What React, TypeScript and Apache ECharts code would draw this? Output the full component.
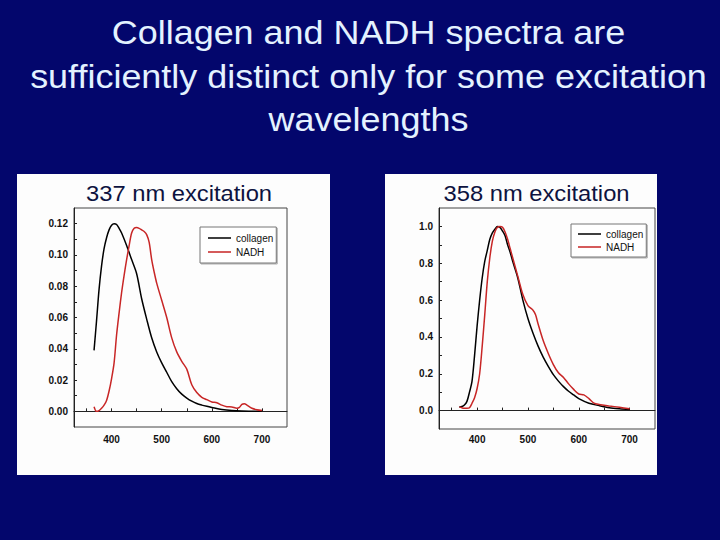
import React, { useEffect, useRef } from 'react';
import * as echarts from 'echarts';

// ---- Data: 337 nm excitation ----
const wlCollagen337 = [365, 370, 375, 380, 385, 390, 395, 400, 405, 410, 415, 420, 430, 440, 450, 460, 470, 480, 490, 500, 510, 520, 530, 540, 550, 560, 570, 580, 590, 600, 620, 640, 660, 680, 700];
const valCollagen337 = [0.039, 0.058, 0.078, 0.093, 0.104, 0.111, 0.116, 0.119, 0.120, 0.1195, 0.117, 0.114, 0.106, 0.097, 0.088, 0.072, 0.059, 0.047, 0.038, 0.031, 0.025, 0.019, 0.0145, 0.011, 0.0085, 0.0065, 0.005, 0.004, 0.0032, 0.0025, 0.0012, 0.0005, 0.0002, 0.0001, 0.0];
const wlNadh337 = [365, 370, 375, 380, 385, 390, 395, 400, 405, 410, 415, 420, 425, 430, 435, 440, 445, 450, 455, 460, 465, 470, 475, 480, 485, 490, 500, 510, 520, 530, 540, 550, 560, 570, 580, 590, 600, 610, 620, 630, 640, 650, 655, 660, 665, 670, 680, 690, 700];
const valNadh337 = [0.003, 0.0, 0.0005, 0.002, 0.004, 0.007, 0.013, 0.021, 0.031, 0.049, 0.063, 0.076, 0.087, 0.097, 0.106, 0.114, 0.117, 0.1175, 0.117, 0.116, 0.115, 0.113, 0.108, 0.097, 0.089, 0.082, 0.071, 0.060, 0.047, 0.038, 0.032, 0.027, 0.017, 0.012, 0.009, 0.0075, 0.006, 0.0055, 0.004, 0.003, 0.0028, 0.002, 0.0025, 0.0045, 0.0048, 0.004, 0.002, 0.001, 0.0005];

// ---- Data: 358 nm excitation ----
const wlCollagen358 = [365, 370, 375, 380, 385, 390, 395, 400, 405, 410, 415, 420, 425, 430, 435, 440, 445, 450, 455, 460, 465, 470, 480, 490, 500, 510, 520, 530, 540, 550, 560, 570, 580, 590, 600, 620, 640, 660, 680, 700];
const valCollagen358 = [0.02, 0.022, 0.03, 0.05, 0.1, 0.16, 0.3, 0.46, 0.6, 0.72, 0.81, 0.87, 0.93, 0.965, 0.985, 1.0, 0.995, 0.975, 0.95, 0.9, 0.86, 0.81, 0.72, 0.6, 0.5, 0.42, 0.35, 0.29, 0.24, 0.195, 0.16, 0.13, 0.105, 0.085, 0.065, 0.04, 0.027, 0.016, 0.01, 0.006];
const wlNadh358 = [365, 370, 375, 380, 385, 390, 395, 400, 405, 410, 415, 420, 425, 430, 435, 440, 445, 450, 455, 460, 465, 470, 480, 490, 500, 510, 515, 520, 530, 540, 550, 560, 570, 580, 590, 600, 610, 620, 630, 640, 660, 680, 700];
const valNadh358 = [0.02, 0.015, 0.012, 0.012, 0.015, 0.04, 0.07, 0.12, 0.2, 0.35, 0.52, 0.7, 0.83, 0.92, 0.97, 0.995, 1.0, 0.995, 0.97, 0.93, 0.88, 0.83, 0.73, 0.63, 0.57, 0.545, 0.52, 0.47, 0.38, 0.31, 0.25, 0.205, 0.18, 0.145, 0.115, 0.09, 0.085, 0.065, 0.04, 0.033, 0.025, 0.018, 0.01];

// ---- Ticks ----
const xTickValues = [350, 400, 450, 500, 550, 600, 650, 700];
const xLabelValues = [400, 500, 600, 700];
const yTicks337 = [0, 0.01, 0.02, 0.03, 0.04, 0.05, 0.06, 0.07, 0.08, 0.09, 0.10, 0.11, 0.12];
const yLabels337 = [0, 0.02, 0.04, 0.06, 0.08, 0.10, 0.12];
const yTicks358 = [0, 0.1, 0.2, 0.3, 0.4, 0.5, 0.6, 0.7, 0.8, 0.9, 1.0];
const yLabels358 = [0, 0.2, 0.4, 0.6, 0.8, 1.0];

const titleLines = ['Collagen and NADH spectra are', 'sufficiently distinct only for some excitation', 'wavelengths'];
const panelTitles = ['337 nm excitation', '358 nm excitation'];
const seriesNames = ['collagen', 'NADH'];

const zip = (xs: number[], ys: number[]) => xs.map((x, i) => [x, ys[i]]);

const NARROW = "'Liberation Sans Narrow', 'Arial Narrow', 'Liberation Sans', Arial, sans-serif";
const SANS = "'Liberation Sans', Arial, sans-serif";
const RED = '#c82626';
const LINE_ICON = 'path://M0 0 L0.001 0 Z M0 10 L0.001 10 Z M0 4.25 H23 V5.75 H0 Z';

function makeXAxis(gridIndex: number, margin: number) {
  return {
    type: 'value',
    gridIndex,
    min: 325,
    max: 750,
    interval: 25,
    axisLine: { show: true, lineStyle: { color: '#222', width: 1 } },
    axisTick: { show: true, inside: true, length: 3, customValues: xTickValues, lineStyle: { color: '#222' } },
    axisLabel: {
      show: true,
      customValues: xLabelValues,
      margin,
      color: '#111',
      fontSize: 10,
      fontWeight: 'bold',
      fontFamily: NARROW,
      formatter: (v: number) => (v % 100 === 0 ? String(v) : ''),
    },
    splitLine: { show: false },
  };
}

function makeYAxis(gridIndex: number, min: number, max: number, step: number, ticks: number[], labels: number[], digits: number) {
  return {
    type: 'value',
    gridIndex,
    min,
    max,
    interval: step,
    axisLine: { show: true, lineStyle: { color: '#222', width: 1 } },
    axisTick: { show: true, inside: true, length: 3, customValues: ticks, lineStyle: { color: '#222' } },
    axisLabel: {
      show: true,
      customValues: labels,
      margin: 6,
      color: '#111',
      fontSize: 10,
      fontWeight: 'bold',
      fontFamily: NARROW,
      formatter: (v: number) => v.toFixed(digits),
    },
    splitLine: { show: false },
  };
}

function makeSeries(name: string, data: number[][], idx: number, color: string) {
  return {
    type: 'line',
    name,
    xAxisIndex: idx,
    yAxisIndex: idx,
    data,
    symbol: 'none',
    showSymbol: false,
    smooth: 0.3,
    lineStyle: { color, width: 1.5 },
    itemStyle: { color },
  };
}

function makeLegend(left: number, top: number, padding: number[], gap: number) {
  return {
    show: true,
    orient: 'vertical',
    left,
    top,
    padding,
    itemGap: gap,
    itemWidth: 23,
    itemHeight: 10,
    icon: LINE_ICON,
    backgroundColor: '#fff',
    borderColor: '#777',
    borderWidth: 1,
    shadowColor: 'rgba(0,0,0,0.3)',
    shadowBlur: 1,
    shadowOffsetX: 1,
    shadowOffsetY: 1,
    selectedMode: false,
    data: seriesNames,
    itemStyle: { borderWidth: 0 },
    textStyle: { color: '#111', fontSize: 10, fontFamily: NARROW },
  };
}

export default function App() {
  const ref = useRef<HTMLDivElement>(null);
  useEffect(() => {
    if (!ref.current) return;
    const chart = echarts.init(ref.current, null, { renderer: 'svg' });
    const option: any = {
      animation: false,
      backgroundColor: '#03066c',
      graphic: [
        { type: 'rect', z: -10, shape: { x: 17, y: 174, width: 313, height: 301 }, style: { fill: '#fdfdfd' } },
        { type: 'rect', z: -10, shape: { x: 385, y: 174, width: 272, height: 301 }, style: { fill: '#fdfdfd' } },
        ...titleLines.map((t, i) => ({
          type: 'text',
          z: 10,
          x: 368.5,
          y: 32.8 + i * 43.4,
          scaleX: 1.09,
          style: { text: t, fill: '#e4f2ff', fontSize: 33, fontFamily: SANS, align: 'center', verticalAlign: 'middle' },
        })),
        ...panelTitles.map((t, i) => ({
          type: 'text',
          z: 10,
          x: i === 0 ? 179 : 536.5,
          y: 193.4,
          scaleX: 1.08,
          style: { text: t, fill: '#0d1340', fontSize: 22, fontFamily: SANS, align: 'center', verticalAlign: 'middle' },
        })),
      ],
      grid: [
        { left: 74, top: 208, width: 213, height: 219, show: true, borderColor: '#444', borderWidth: 1, backgroundColor: 'transparent', containLabel: false },
        { left: 439, top: 208, width: 216, height: 221, show: true, borderColor: '#444', borderWidth: 1, backgroundColor: 'transparent', containLabel: false },
      ],
      xAxis: [makeXAxis(0, 7), makeXAxis(1, 5)],
      yAxis: [
        makeYAxis(0, -0.01, 0.13, 0.01, yTicks337, yLabels337, 2),
        makeYAxis(1, -0.1, 1.1, 0.1, yTicks358, yLabels358, 1),
      ],
      legend: [makeLegend(200, 227, [6, 3, 6, 8], 4), makeLegend(571, 224, [5, 3, 5, 7], 3)],
      series: [
        makeSeries('collagen', zip(wlCollagen337, valCollagen337), 0, '#000'),
        makeSeries('NADH', zip(wlNadh337, valNadh337), 0, RED),
        makeSeries('collagen', zip(wlCollagen358, valCollagen358), 1, '#000'),
        makeSeries('NADH', zip(wlNadh358, valNadh358), 1, RED),
      ],
    };
    chart.setOption(option);
    return () => chart.dispose();
  }, []);
  return <div ref={ref} style={{ position: 'fixed', left: 0, top: 0, width: 720, height: 540 }} />;
}
